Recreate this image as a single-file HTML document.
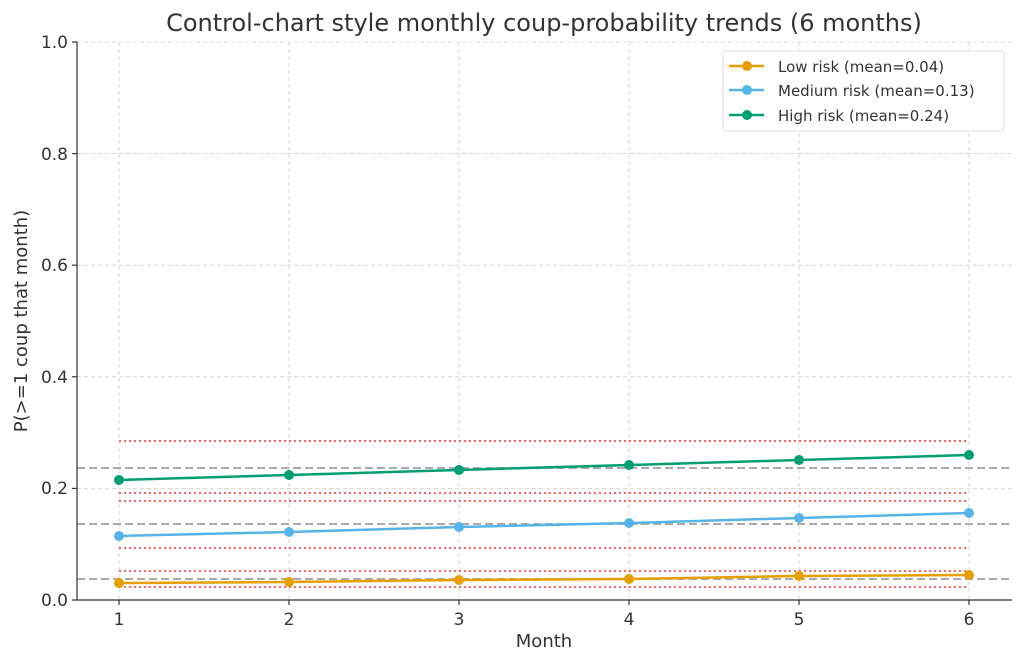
<!DOCTYPE html>
<html><head><style>body{margin:0;background:#fff}svg{display:block}text{font-family:"DejaVu Sans","Liberation Sans",sans-serif;fill:#333}</style></head><body>
<svg width="1024" height="664" xmlns="http://www.w3.org/2000/svg">
<text x="544" y="31" font-size="24" text-anchor="middle">Control-chart style monthly coup-probability trends (6 months)</text>
<g stroke="#ccc" stroke-width="0.8" stroke-dasharray="4,3">
<line x1="119" y1="42" x2="119" y2="600"/><line x1="289" y1="42" x2="289" y2="600"/><line x1="459" y1="42" x2="459" y2="600"/><line x1="629" y1="42" x2="629" y2="600"/><line x1="799" y1="42" x2="799" y2="600"/><line x1="969" y1="42" x2="969" y2="600"/>
<line x1="77" y1="42" x2="1012" y2="42"/><line x1="77" y1="153.6" x2="1012" y2="153.6"/><line x1="77" y1="265.2" x2="1012" y2="265.2"/><line x1="77" y1="376.8" x2="1012" y2="376.8"/><line x1="77" y1="488.4" x2="1012" y2="488.4"/>
</g>
<g stroke="#f44" stroke-width="2" stroke-dasharray="2,3" opacity="0.85">
<line x1="119" y1="441" x2="969" y2="441"/><line x1="119" y1="493" x2="969" y2="493"/><line x1="119" y1="501" x2="969" y2="501"/><line x1="119" y1="548" x2="969" y2="548"/><line x1="119" y1="571" x2="969" y2="571"/><line x1="119" y1="587" x2="969" y2="587"/>
</g>
<g stroke="#aaa" stroke-width="2" stroke-dasharray="8,4">
<line x1="77" y1="468" x2="1012" y2="468"/><line x1="77" y1="524" x2="1012" y2="524"/><line x1="77" y1="579" x2="1012" y2="579"/>
</g>
<g stroke-width="2.5" fill="none">
<polyline stroke="#e69f00" points="119,583 289,582 459,580 629,579 799,576 969,575"/>
<polyline stroke="#56b4e9" points="119,536 289,532 459,527 629,523 799,518 969,513"/>
<polyline stroke="#009e73" points="119,480 289,475 459,470 629,465 799,460 969,455"/>
</g>
<g fill="#e69f00"><circle cx="119" cy="583" r="5"/><circle cx="289" cy="582" r="5"/><circle cx="459" cy="580" r="5"/><circle cx="629" cy="579" r="5"/><circle cx="799" cy="576" r="5"/><circle cx="969" cy="575" r="5"/></g>
<g fill="#56b4e9"><circle cx="119" cy="536" r="5"/><circle cx="289" cy="532" r="5"/><circle cx="459" cy="527" r="5"/><circle cx="629" cy="523" r="5"/><circle cx="799" cy="518" r="5"/><circle cx="969" cy="513" r="5"/></g>
<g fill="#009e73"><circle cx="119" cy="480" r="5"/><circle cx="289" cy="475" r="5"/><circle cx="459" cy="470" r="5"/><circle cx="629" cy="465" r="5"/><circle cx="799" cy="460" r="5"/><circle cx="969" cy="455" r="5"/></g>
<g stroke="#333" stroke-width="1.2"><line x1="77" y1="42" x2="77" y2="600"/><line x1="77" y1="600" x2="1012" y2="600"/>
<line x1="72" y1="42" x2="77" y2="42"/><line x1="72" y1="153.6" x2="77" y2="153.6"/><line x1="72" y1="265.2" x2="77" y2="265.2"/><line x1="72" y1="376.8" x2="77" y2="376.8"/><line x1="72" y1="488.4" x2="77" y2="488.4"/><line x1="72" y1="600" x2="77" y2="600"/>
<line x1="119" y1="600" x2="119" y2="605"/><line x1="289" y1="600" x2="289" y2="605"/><line x1="459" y1="600" x2="459" y2="605"/><line x1="629" y1="600" x2="629" y2="605"/><line x1="799" y1="600" x2="799" y2="605"/><line x1="969" y1="600" x2="969" y2="605"/></g>
<g font-size="17" text-anchor="end"><text x="68" y="48">1.0</text><text x="68" y="160">0.8</text><text x="68" y="271">0.6</text><text x="68" y="383">0.4</text><text x="68" y="494">0.2</text><text x="68" y="606">0.0</text></g>
<g font-size="17" text-anchor="middle"><text x="119" y="625">1</text><text x="289" y="625">2</text><text x="459" y="625">3</text><text x="629" y="625">4</text><text x="799" y="625">5</text><text x="969" y="625">6</text></g>
<text x="544" y="647" font-size="18" text-anchor="middle">Month</text>
<text transform="translate(27,321) rotate(-90)" font-size="18" text-anchor="middle">P(&gt;=1 coup that month)</text>
<rect x="723" y="51" width="281" height="80" rx="3" fill="#fff" stroke="#ddd"/>
<g stroke-width="2.5"><line x1="729" y1="66" x2="764" y2="66" stroke="#e69f00"/><line x1="729" y1="90" x2="764" y2="90" stroke="#56b4e9"/><line x1="729" y1="115" x2="764" y2="115" stroke="#009e73"/></g>
<circle cx="747" cy="66" r="5" fill="#e69f00"/><circle cx="747" cy="90" r="5" fill="#56b4e9"/><circle cx="747" cy="115" r="5" fill="#009e73"/>
<g font-size="15"><text x="778" y="72">Low risk (mean=0.04)</text><text x="778" y="96">Medium risk (mean=0.13)</text><text x="778" y="121">High risk (mean=0.24)</text></g>
</svg>
</body></html>
